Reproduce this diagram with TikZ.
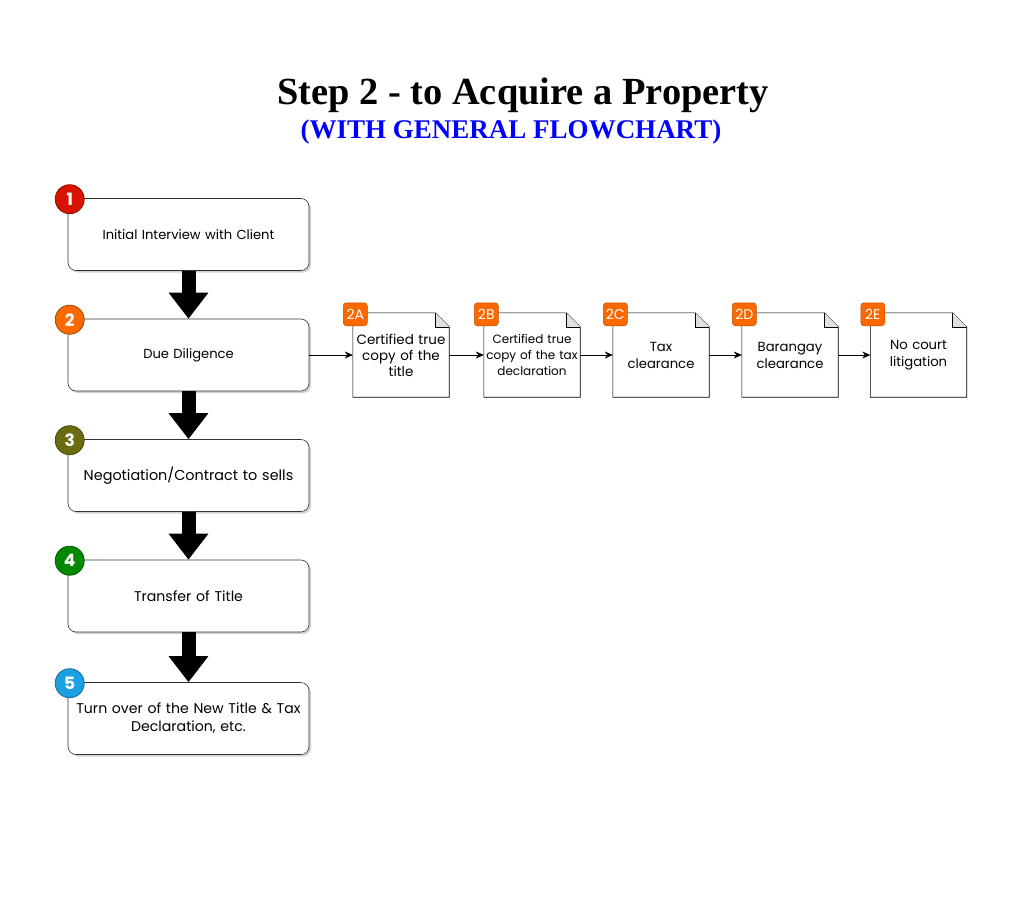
\documentclass[tikz,border=0pt]{standalone}
\usepackage{fontspec}
\setmainfont{Poppins}
\newfontfamily\titlefont{Liberation Serif}
\usetikzlibrary{arrows.meta,calc,shadows,backgrounds}
\definecolor{badgered}{HTML}{D81200}
\definecolor{badgeorange}{HTML}{FA6800}
\definecolor{badgeolive}{HTML}{6B6B10}
\definecolor{badgegreen}{HTML}{008A00}
\definecolor{badgeblue}{HTML}{1BA1E2}
\definecolor{titleblue}{HTML}{0000FF}

\begin{document}
\begin{tikzpicture}
		[x=1pt,y=-1pt,
		stepbox/.style={rectangle,rounded corners=8pt,draw=black!80,fill=white,semithick,
minimum width=241pt,minimum height=72pt,text width=234pt,align=center,
font=\fontsize{13.1}{18}\selectfont,
drop shadow={shadow xshift=2pt,shadow yshift=-2pt,fill=black!30,opacity=0.6}},
		badge/.style={circle,fill=#1,draw=#1!65!black,thick,minimum size=29pt,
inner sep=0pt,text=white,font=\bfseries\fontsize{17}{17}\selectfont},
		docbox/.style={rectangle,minimum width=96pt,minimum height=84pt,inner sep=0pt,
text width=94pt,align=center,font=\fontsize{13.2}{17}\selectfont},
		docbadge/.style={rectangle,rounded corners=3pt,fill=badgeorange,draw=badgeorange!75!black,
minimum width=24pt,minimum height=23pt,inner sep=0pt,text=white,font=\fontsize{14}{14}\selectfont},
		blockarrow/.style={line width=14pt,-{Triangle[length=26pt,width=38pt]}},
		linkarrow/.style={-{Stealth[length=8pt,width=7pt]},semithick}]
		\useasboundingbox (0,0) rectangle (1024,911);
		% title
		\node at (523,95) (title) [font=\titlefont\bfseries\fontsize{38.4}{38.4}\selectfont] {Step 2 - to Acquire a Property};
		\node at (511,132) (subtitle) [font=\titlefont\bfseries\fontsize{27}{27}\selectfont,text=titleblue] {(WITH GENERAL FLOWCHART)};
		% main steps
		\node at (188.5,234.5) (1) [stepbox] {Initial Interview with Client};
		\node at (188.5,355) (2) [stepbox] {Due Diligence};
		\node at (188.5,475.5) (3) [stepbox,font=\fontsize{14.4}{18}\selectfont] {Negotiation/Contract to sells};
		\node at (188.5,596) (4) [stepbox,font=\fontsize{14.1}{18}\selectfont] {Transfer of Title};
		\node at (188.5,718.5) (5) [stepbox,font=\fontsize{14.1}{18}\selectfont] {Turn over of the New Title \& Tax\\Declaration, etc.};
		\node at ($(1.north west)+(2,1)$) (b1) [badge=badgered] {1};
		\node at ($(2.north west)+(2,1)$) (b2) [badge=badgeorange] {2};
		\node at ($(3.north west)+(2,1)$) (b3) [badge=badgeolive] {3};
		\node at ($(4.north west)+(2,1)$) (b4) [badge=badgegreen] {4};
		\node at ($(5.north west)+(2,1)$) (b5) [badge=badgeblue] {5};
		\draw[blockarrow] (1) -- (2);
		\draw[blockarrow] (2) -- (3);
		\draw[blockarrow] (3) -- (4);
		\draw[blockarrow] (4) -- (5);
		% due diligence documents
		\node at (401,355) (2a) [docbox,font=\fontsize{13.5}{16}\selectfont] {Certified true\\copy of the\\title};
		\node at (532,355) (2b) [docbox,font=\fontsize{12}{16}\selectfont] {Certified true\\copy of the tax\\declaration};
		\node at (661,355) (2c) [docbox] {Tax\\clearance};
		\node at (790,355) (2d) [docbox] {Barangay\\clearance};
		\node at (918.5,355) (2e) [docbox] {No court\\litigation};
		\begin{scope}[on background layer]
		\foreach \d in {2a,2b,2c,2d,2e} {
			\fill[black!30,opacity=0.6,xshift=2pt,yshift=-2pt] (\d.north west) -- ($(\d.north east)+(-14,0)$)
				-- ($(\d.north east)+(0,14)$) -- (\d.south east) -- (\d.south west) -- cycle;
			\draw[semithick,fill=white] (\d.north west) -- ($(\d.north east)+(-14,0)$)
				-- ($(\d.north east)+(0,14)$) -- (\d.south east) -- (\d.south west) -- cycle;
			\draw[semithick,fill=black!12] ($(\d.north east)+(-14,0)$) -- ($(\d.north east)+(-14,14)$)
				-- ($(\d.north east)+(0,14)$);
		}
		\end{scope}
		\node at ($(2a.north west)+(2.5,1.5)$) (l2a) [docbadge] {2A};
		\node at ($(2b.north west)+(2.5,1.5)$) (l2b) [docbadge] {2B};
		\node at ($(2c.north west)+(2.5,1.5)$) (l2c) [docbadge] {2C};
		\node at ($(2d.north west)+(2.5,1.5)$) (l2d) [docbadge] {2D};
		\node at ($(2e.north west)+(2.5,1.5)$) (l2e) [docbadge] {2E};
		\draw[linkarrow] (2) -- (2a);
		\draw[linkarrow] (2a) -- (2b);
		\draw[linkarrow] (2b) -- (2c);
		\draw[linkarrow] (2c) -- (2d);
		\draw[linkarrow] (2d) -- (2e);
	\end{tikzpicture}
\end{document}
